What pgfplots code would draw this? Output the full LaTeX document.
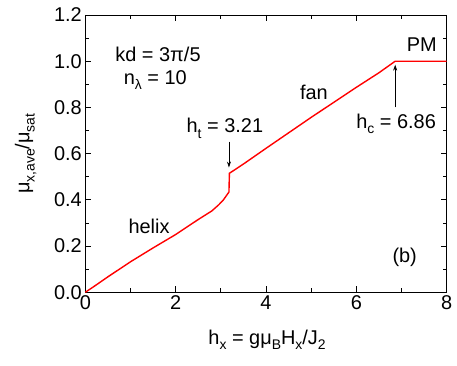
\documentclass[border=0pt]{standalone}
\usepackage{fontspec}
\setmainfont{Liberation Sans}
\usepackage{pgfplots}
\pgfplotsset{compat=1.18}
\usetikzlibrary{arrows.meta}
\newcommand{\sub}[1]{\raisebox{-0.5ex}{\fontsize{14}{14}\selectfont #1}}
\newcommand{\lblfont}{\fontsize{20}{24}\selectfont}

\begin{document}
\begin{tikzpicture}
\begin{axis}[
  scale only axis,
  width=361.4bp, height=277.3bp,
  xmin=0, xmax=8, ymin=0, ymax=1.2,
  xtick={0,2,4,6,8},
  ytick={0,0.2,0.4,0.6,0.8,1.0,1.2},
  minor x tick num=1,
  minor y tick num=1,
  tick align=inside,
  ticks=both,
  major tick length=6bp,
  minor tick length=4bp,
  axis line style={line width=0.9bp},
  every tick/.style={line width=0.8bp, black},
  /pgf/number format/assume math mode=true,
  yticklabel style={/pgf/number format/fixed, /pgf/number format/fixed zerofill, /pgf/number format/precision=1},
  tick label style={font=\lblfont},
  label style={font=\lblfont},
  xlabel={h\sub{x} = gμ\sub{B}H\sub{x}/J\sub{2}},
  ylabel={μ\sub{x,ave}/μ\sub{sat}},
  xlabel style={at={(axis description cs:0.503,-0.172)}, anchor=center},
  ylabel style={at={(axis description cs:-0.165,0.5)}, anchor=center},
  clip=false,
]
\addplot[red, line width=1.4bp] coordinates {
  (0,0) (0.25,0.033) (0.5,0.067) (1.0,0.132) (1.5,0.192) (2.0,0.250)
  (2.5,0.315) (2.8,0.352) (2.95,0.378) (3.05,0.398) (3.18,0.434)
  (3.19,0.515) (3.5,0.555) (4.0,0.623) (4.5,0.690) (5.0,0.757)
  (5.5,0.822) (6.0,0.887) (6.5,0.950) (6.86,1.0) (8,1.0)
};
\node[font=\lblfont] at (axis cs:1.61,1.03) {kd = 3π/5};
\node[font=\lblfont] at (axis cs:1.55,0.92) {n\sub{λ} = 10};
\node[font=\lblfont] at (axis cs:1.41,0.287) {helix};
\node[font=\lblfont] at (axis cs:3.09,0.71) {h\sub{t} = 3.21};
\node[font=\lblfont] at (axis cs:5.06,0.867) {fan};
\node[font=\lblfont] at (axis cs:6.88,0.728) {h\sub{c} = 6.86};
\node[font=\lblfont] at (axis cs:7.45,1.07) {PM};
\node[font=\lblfont] at (axis cs:7.07,0.15) {(b)};
\draw[-{Stealth[length=6bp,width=4bp]}, line width=0.6bp] (axis cs:3.18,0.652) -- (axis cs:3.18,0.54);
\draw[-{Stealth[length=6bp,width=4bp]}, line width=0.6bp] (axis cs:6.86,0.80) -- (axis cs:6.86,0.985);
\end{axis}
\pgfresetboundingbox
\path[use as bounding box] (-85.3bp,-73.7bp) rectangle (371.7bp,292.3bp);
\end{tikzpicture}
\end{document}
